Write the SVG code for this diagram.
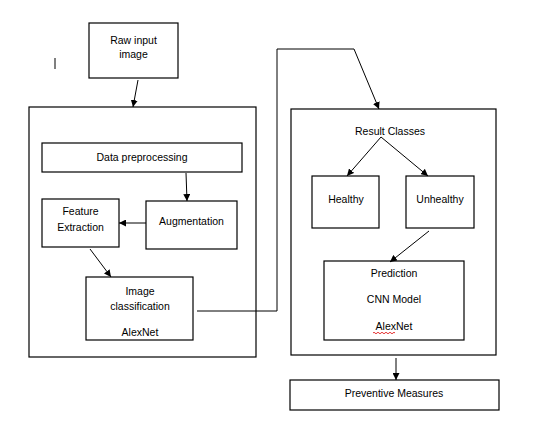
<svg xmlns="http://www.w3.org/2000/svg" width="555" height="437" viewBox="0 0 555 437">
<style>
.box{fill:#fff;stroke:#000;stroke-width:1.2}
.t{font-family:"Liberation Sans",Arial,sans-serif;font-size:10.5px;fill:#000;text-anchor:middle}
.c{fill:none;stroke:#000;stroke-width:1}
.a{fill:none;stroke:#000;stroke-width:1;marker-end:url(#ah)}
</style>
<defs>
<marker id="ah" viewBox="0 0 10 10" refX="10" refY="5" markerWidth="7" markerHeight="7" markerUnits="userSpaceOnUse" orient="auto">
<path d="M0,0 L10,5 L0,10 z" fill="#000"/>
</marker>
</defs>
<rect width="555" height="437" fill="#fff"/>
<line x1="55" y1="58" x2="55" y2="69" stroke="#000" stroke-width="1"/>
<g id="left-container"><rect class="box" x="29" y="107" width="227" height="250"/></g>
<g id="right-container"><rect class="box" x="291" y="109" width="205" height="246"/></g>
<g id="raw-input"><rect class="box" x="89" y="23" width="89" height="55"/><text class="t" x="133.5" y="44">Raw input</text><text class="t" x="133.5" y="58">image</text></g>
<g id="data-preprocessing"><rect class="box" x="42" y="143" width="200" height="29"/><text class="t" x="142" y="161">Data preprocessing</text></g>
<g id="augmentation"><rect class="box" x="146" y="201" width="91" height="48"/><text class="t" x="191.5" y="225">Augmentation</text></g>
<g id="feature-extraction"><rect class="box" x="42" y="199" width="77" height="48"/><text class="t" x="80.5" y="215">Feature</text><text class="t" x="80.5" y="231">Extraction</text></g>
<g id="image-classification"><rect class="box" x="86" y="277" width="107" height="63"/><text class="t" x="140" y="295">Image</text><text class="t" x="140" y="310">classification</text><text class="t" x="140" y="336">AlexNet</text></g>
<g id="result-classes"><text class="t" x="390" y="135">Result Classes</text></g>
<g id="healthy"><rect class="box" x="312" y="176" width="67" height="52"/><text class="t" x="346" y="203">Healthy</text></g>
<g id="unhealthy"><rect class="box" x="406" y="176" width="68" height="52"/><text class="t" x="440" y="203">Unhealthy</text></g>
<g id="prediction"><rect class="box" x="324" y="261" width="140" height="79"/><text class="t" x="394" y="277">Prediction</text><text class="t" x="394" y="303">CNN Model</text><text class="t" x="394" y="330">AlexNet</text><path d="M373,333 q1,-1.5 2,0 t2,0 t2,0 t2,0 t2,0 t2,0 t2,0 t2,0 t2,0 t2,0 t2,0" fill="none" stroke="#d00" stroke-width="0.8"/></g>
<g id="preventive-measures"><rect class="box" x="290" y="380" width="209" height="30"/><text class="t" x="394" y="397">Preventive Measures</text></g>
<g id="connectors">
<line class="a" x1="138" y1="80" x2="133" y2="107"/>
<line class="a" x1="186" y1="173" x2="187" y2="201"/>
<line class="a" x1="146" y1="223" x2="119" y2="223"/>
<line class="a" x1="90" y1="249" x2="111" y2="277"/>
<polyline class="c" points="197,311 277,311 277,49 354,49"/>
<line class="a" x1="354" y1="49" x2="379" y2="109"/>
<line class="a" x1="381" y1="137" x2="347" y2="176"/>
<line class="a" x1="381" y1="137" x2="428" y2="176"/>
<line class="a" x1="429" y1="231" x2="390" y2="262"/>
<line class="a" x1="396" y1="358" x2="396" y2="380"/>
</g>
</svg>
